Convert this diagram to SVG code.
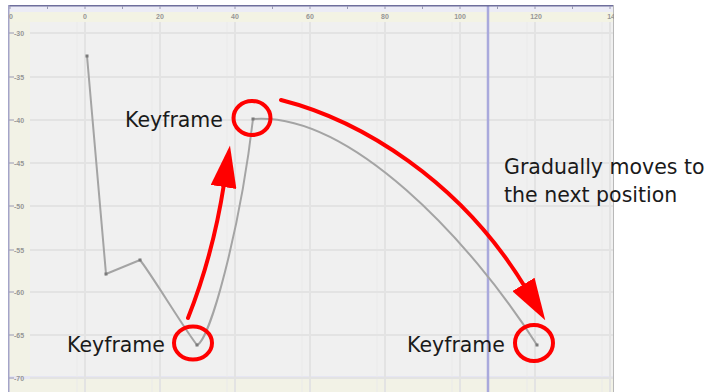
<svg xmlns="http://www.w3.org/2000/svg" width="712" height="392" viewBox="0 0 712 392">
  <defs>
    <style>
      .grid { stroke: #e3e3e3; stroke-width: 2; fill: none; }
      .gridm { stroke: #eaeaea; stroke-width: 1; fill: none; }
      .axl { font-family: "Liberation Sans", Arial, sans-serif; font-size: 7px; fill: #969696; font-weight: bold; }
      .tick { stroke: #9a9ab4; stroke-width: 1; }
      .curve { stroke: #a4a4a4; stroke-width: 2; fill: none; }
      .pt { fill: #7a7a7a; }
      .ring { stroke: #ff0000; stroke-width: 4; fill: none; }
      .arrow { stroke: #ff0000; stroke-width: 4; fill: none; stroke-linecap: round; }
      .lbl { font-family: "DejaVu Sans", "Liberation Sans", sans-serif; font-size: 20.5px; fill: #1a1a1a; }
    </style>
    <clipPath id="panel">
      <rect x="8" y="5" width="606" height="387"/>
    </clipPath>
    <marker id="head" markerUnits="userSpaceOnUse" markerWidth="42" markerHeight="26" viewBox="0 0 42 26" refX="3" refY="13" orient="auto">
      <path d="M0,0 L42,13 L0,26 Z" fill="#ff0000"/>
    </marker>
  </defs>

  <rect width="712" height="392" fill="#ffffff"/>

  <!-- graph panel -->
  <g id="graph-panel" clip-path="url(#panel)">
    <rect x="8" y="5" width="606" height="387" fill="#f0f0f0"/>
    <!-- top ruler -->
    <rect x="8" y="6" width="606" height="6" fill="#ececf6"/>
    <rect x="8" y="12" width="606" height="10" fill="#f3f3e4"/>
    <!-- left ruler -->
    <rect x="9" y="22" width="21" height="370" fill="#f2f2e6"/>
    <!-- bottom band -->
    <rect x="8" y="376" width="606" height="3" fill="#e6e6f2"/>
    <rect x="8" y="379" width="606" height="13" fill="#f2f2e6"/>

    <!-- minor grid -->
    <g class="gridm">
      <path d="M77,22V392 M152,22V392 M227,22V392 M302,22V392 M377,22V392 M452,22V392 M527,22V392 M602,22V392"/>
    </g>
    <!-- major grid -->
    <g class="grid">
      <path d="M85,22V392 M160,22V392 M235,22V392 M310,22V392 M385,22V392 M460,22V392 M535,22V392 M610,22V392"/>
      <path d="M30,33H614 M30,77H614 M30,120H614 M30,163H614 M30,206H614 M30,250H614 M30,292H614 M30,335H614 M30,378H614"/>
    </g>

    <!-- current frame line -->
    <line x1="488" y1="5" x2="488" y2="392" stroke="#a9a9dc" stroke-width="2.5"/>

    <!-- borders -->
    <line x1="8" y1="5.5" x2="614" y2="5.5" stroke="#6e6e9c" stroke-width="2"/>
    <line x1="8.75" y1="5" x2="8.75" y2="392" stroke="#a4a4c8" stroke-width="1.5"/>
    <line x1="613.5" y1="5" x2="613.5" y2="392" stroke="#b8b8b8" stroke-width="1"/>

    <!-- ruler ticks and labels -->
    <g class="tick">
      <path d="M10,6V9 M47.5,6V9 M85,6V9 M122.5,6V9 M160,6V9 M197.5,6V9 M235,6V9 M272.5,6V9 M310,6V9 M347.5,6V9 M385,6V9 M422.5,6V9 M460,6V9 M497.5,6V9 M535,6V9 M572.5,6V9 M610,6V9"/>
      <path d="M9,33H14 M9,77H14 M9,120H14 M9,163H14 M9,206H14 M9,250H14 M9,292H14 M9,335H14 M9,378H14"/>
    </g>
    <g class="axl" text-anchor="middle">
      <text x="11" y="19">0</text>
      <text x="85" y="19">0</text>
      <text x="160" y="19">20</text>
      <text x="235" y="19">40</text>
      <text x="310" y="19">60</text>
      <text x="385" y="19">80</text>
      <text x="460" y="19">100</text>
      <text x="536" y="19">120</text>
      <text x="613" y="19">140</text>
    </g>
    <g class="axl">
      <text x="14" y="35.5">-30</text>
      <text x="14" y="79.5">-35</text>
      <text x="14" y="122.5">-40</text>
      <text x="14" y="165.5">-45</text>
      <text x="14" y="208.5">-50</text>
      <text x="14" y="252.5">-55</text>
      <text x="14" y="294.5">-60</text>
      <text x="14" y="337.5">-65</text>
      <text x="14" y="380.5">-70</text>
    </g>

    <!-- animation curve -->
    <path class="curve" d="M87,56 L106,274 L140,260 C150,272 185,330 197,345 C210,340 240,230 253,119 C350,112 470,240 537,345"/>
    <g class="pt">
      <rect x="85.5" y="54.5" width="3" height="3"/>
      <rect x="104.5" y="272.5" width="3" height="3"/>
      <rect x="138.5" y="258.5" width="3" height="3"/>
      <rect x="195.5" y="343.5" width="3" height="3"/>
      <rect x="251.5" y="117.5" width="3" height="3"/>
      <rect x="535.5" y="343.5" width="3" height="3"/>
    </g>
  </g>

  <!-- keyframe nodes -->
  <g id="keyframe-1">
    <ellipse class="ring" cx="193" cy="343" rx="19" ry="16.5"/>
    <text class="lbl" x="67" y="352">Keyframe</text>
  </g>
  <g id="keyframe-2">
    <ellipse class="ring" cx="252" cy="118" rx="18.5" ry="17"/>
    <text class="lbl" x="125" y="127">Keyframe</text>
  </g>
  <g id="keyframe-3">
    <ellipse class="ring" cx="534" cy="343" rx="19" ry="18"/>
    <text class="lbl" x="407" y="352">Keyframe</text>
  </g>

  <!-- annotation -->
  <g id="note">
    <text class="lbl" x="504" y="174">Gradually moves to</text>
    <text class="lbl" x="504" y="202">the next position</text>
  </g>

  <!-- connectors -->
  <g id="connectors">
    <path class="arrow" d="M188,318 Q213,255 224,184" marker-end="url(#head)"/>
    <path class="arrow" d="M281,100 C360,120 460,180 525,287" marker-end="url(#head)"/>
  </g>
</svg>
